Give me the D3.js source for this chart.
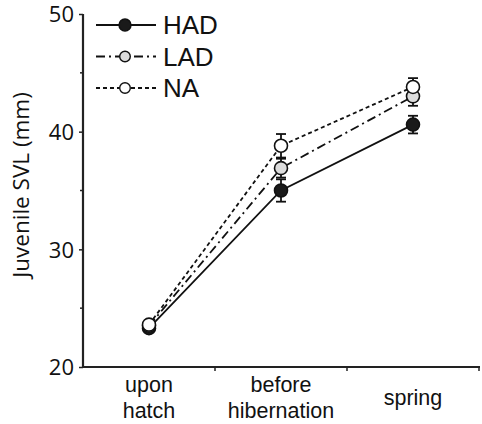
<!DOCTYPE html>
<html>
<head>
<meta charset="utf-8">
<script src="https://cdn.jsdelivr.net/npm/d3@7"></script>
<style>
  body { margin: 0; background: #fff; }
  text { font-family: "Open Sans", sans-serif; fill: #111; }
</style>
</head>
<body>
<div class="chart"></div>
<script>
// Stages on the x-axis (labels may wrap over two lines)
const stages = ["upon hatch", "before hibernation", "spring"];
const stageLines = [["upon", "hatch"], ["before", "hibernation"], ["spring"]];

// Group names and their mean SVL / error per stage
const groups = ["HAD", "LAD", "NA"];
const hadMean = [23.3, 35.0, 40.6];
const hadErr = [0.3, 0.95, 0.75];
const ladMean = [23.5, 36.9, 43.0];
const ladErr = [0.3, 0.8, 0.8];
const naMean = [23.6, 38.8, 43.8];
const naErr = [0.3, 1.0, 0.75];

const yTicks = [20, 30, 40, 50];
const yMinor = [25, 35, 45];

const series = [
    { name: "HAD", mean: hadMean, err: hadErr, fill: "#1a1a1a", dash: null },
    { name: "LAD", mean: ladMean, err: ladErr, fill: "#dcdcdc", dash: "9,4,2,4" },
    { name: "NA", mean: naMean, err: naErr, fill: "#ffffff", dash: "4,3" }
];

const width = 482, height = 424;
const svg = d3.select(".chart")
    .append("svg")
    .attr("width", width)
    .attr("height", height);

// Scales
const xScale = d3.scaleBand()
    .domain(stages)
    .range([83, 479]);

const yScale = d3.scaleLinear()
    .domain([20, 50])
    .range([367, 14]);

// y axis
const yAxis = svg.append("g")
    .attr("transform", "translate(83,0)")
    .call(d3.axisLeft(yScale).tickValues(yTicks).tickSize(4).tickPadding(5));
yAxis.select(".domain").attr("stroke", "#222").attr("stroke-width", 2.2).attr("d", `M0,${yScale(20)}V${yScale(50)}`);
yAxis.selectAll(".tick line").attr("stroke", "#222").attr("stroke-width", 1.5);
yAxis.selectAll(".tick text").style("font-size", "22px").attr("dy", "0.36em");

svg.append("g")
    .selectAll("line")
    .data(yMinor)
    .enter()
    .append("line")
    .attr("x1", 80).attr("x2", 83)
    .attr("y1", d => yScale(d)).attr("y2", d => yScale(d))
    .attr("stroke", "#222").attr("stroke-width", 1.5);

// x axis - ticks at band boundaries
const xAxis = svg.append("g")
    .attr("transform", `translate(0,${yScale(20)})`);
xAxis.append("line")
    .attr("x1", 82).attr("x2", xScale.range()[1] + 1)
    .attr("stroke", "#222").attr("stroke-width", 2.2);
xAxis.selectAll(".xtick")
    .data(stages)
    .enter()
    .append("line")
    .attr("x1", d => xScale(d) + xScale.bandwidth())
    .attr("x2", d => xScale(d) + xScale.bandwidth())
    .attr("y1", 0).attr("y2", 4)
    .attr("stroke", "#222").attr("stroke-width", 1.5);

const xLabels = xAxis.selectAll(".xlabel")
    .data(stages)
    .enter()
    .append("text")
    .attr("text-anchor", "middle")
    .style("font-family", "'Liberation Sans', Arial, sans-serif")
    .style("font-size", "21.5px")
    .attr("transform", d => `translate(${xScale(d) + xScale.bandwidth() / 2},0)`);
xLabels.each(function(d, i) {
    const lines = stageLines[i];
    const t = d3.select(this);
    lines.forEach((l, j) => {
        t.append("tspan")
            .attr("x", 0)
            .attr("y", lines.length === 1 ? 38 : 25 + j * 25.5)
            .text(l);
    });
});

// y label
svg.append("text")
    .attr("transform", `translate(29,185) rotate(-90)`)
    .attr("text-anchor", "middle")
    .style("font-size", "22.5px")
    .text("Juvenile SVL (mm)");

const cx = d => xScale(d) + xScale.bandwidth() / 2;

const line = d3.line()
    .x(d => cx(d.stage))
    .y(d => yScale(d.value));

// Lines
series.forEach(s => {
    const pts = stages.map((st, i) => ({ stage: st, value: s.mean[i], err: s.err[i] }));
    svg.append("path")
        .datum(pts)
        .attr("fill", "none")
        .attr("stroke", "#111")
        .attr("stroke-width", 1.8)
        .attr("stroke-dasharray", s.dash)
        .attr("d", line);
    s.pts = pts;
});

// Error bars (tiny ones at hatch are hidden by the markers)
series.forEach(s => {
    const eb = svg.append("g")
        .selectAll(".eb")
        .data(s.pts.filter(p => p.err > 0.4))
        .enter()
        .append("g");
    eb.append("line")
        .attr("x1", d => cx(d.stage)).attr("x2", d => cx(d.stage))
        .attr("y1", d => yScale(d.value - d.err)).attr("y2", d => yScale(d.value + d.err))
        .attr("stroke", "#111").attr("stroke-width", 1.8);
    [-1, 1].forEach(sign => {
        eb.append("line")
            .attr("x1", d => cx(d.stage) - 5).attr("x2", d => cx(d.stage) + 5)
            .attr("y1", d => yScale(d.value + sign * d.err))
            .attr("y2", d => yScale(d.value + sign * d.err))
            .attr("stroke", "#111").attr("stroke-width", 1.8);
    });
});

series.forEach(s => {
    svg.append("g")
        .selectAll("circle")
        .data(s.pts)
        .enter()
        .append("circle")
        .attr("cx", d => cx(d.stage))
        .attr("cy", d => yScale(d.value))
        .attr("r", 6.5)
        .attr("fill", s.fill)
        .attr("stroke", "#111")
        .attr("stroke-width", 1.6);
});

// Legend
const legend = svg.append("g")
    .selectAll("g")
    .data(series)
    .enter()
    .append("g")
    .attr("transform", (d, i) => `translate(96,${25 + i * 31.5})`);
legend.append("line")
    .attr("x1", 0).attr("x2", 60)
    .attr("stroke", "#111").attr("stroke-width", 1.8)
    .attr("stroke-dasharray", d => d.dash);
legend.append("circle")
    .attr("cx", 29).attr("r", d => d.name === "HAD" ? 6 : 5.3)
    .attr("fill", d => d.fill)
    .attr("stroke", "#111").attr("stroke-width", 1.4);
legend.append("text")
    .attr("x", 67).attr("dy", "0.36em")
    .style("font-family", "'Liberation Sans', Arial, sans-serif")
    .style("font-size", "26px")
    .text(d => d.name);
</script>
</body>
</html>
